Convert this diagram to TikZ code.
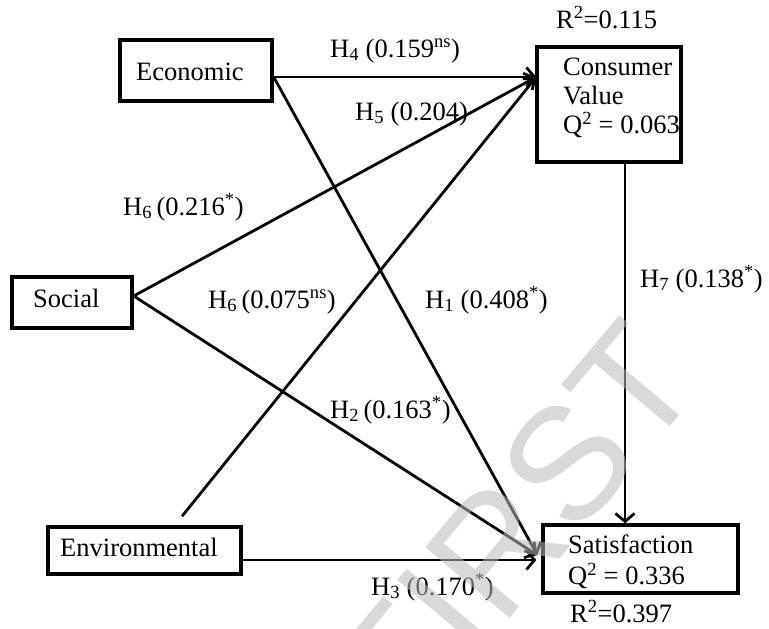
\documentclass[tikz,border=0pt]{standalone}
\usepackage{fontspec}
\setmainfont{Liberation Serif}
\newfontfamily\wmfont{Liberation Sans}
\usetikzlibrary{arrows.meta}
\begin{document}
\begin{tikzpicture}[x=1pt,y=-1pt,
  font=\fontsize{26.5}{29}\selectfont,
  box/.style={draw, line width=3.4pt, inner sep=0pt},
  lbl/.style={anchor=base west, inner sep=0pt},
  arr/.style={line width=2.8pt, -{Straight Barb[length=8pt,width=19pt]}}]
\useasboundingbox (0,0) rectangle (769,629);

% boxes
\node[box, minimum width=152pt, minimum height=61pt] (eco) at (196,70.5) {};
\node[box, minimum width=144pt, minimum height=115pt] (cv) at (609,104.5) {};
\node[box, minimum width=120pt, minimum height=51pt] (soc) at (72,302.5) {};
\node[box, minimum width=193pt, minimum height=47pt] (env) at (144.5,550.5) {};
\node[box, minimum width=195pt, minimum height=68pt] (sat) at (640.5,559) {};

% box texts
\node[lbl] (ecot) at (136,80) {Economic};
\node[lbl] (soct) at (33,307) {Social};
\node[lbl] (envt) at (60,556) {Environmental};
\node[anchor=north west, inner sep=0pt, align=left] (cvt) at (563,57.5)
  {Consumer\\Value\\Q\textsuperscript{2} = 0.063};
\node[anchor=north west, inner sep=0pt, align=left,
  font=\fontsize{26.5}{31}\selectfont] (satt) at (568,534.2)
  {Satisfaction\\Q\textsuperscript{2} = 0.336};

% ports
\coordinate (ecoout) at ([yshift=-6.5pt]eco.east);
\coordinate (socout) at ([yshift=6.5pt]soc.east);
\coordinate (envtop) at ([xshift=37.5pt,yshift=9pt]env.north);
\coordinate (envout) at ([yshift=-9.5pt]env.east);
\coordinate (cvin) at ([xshift=1pt,yshift=27.5pt]cv.west);
\coordinate (satin) at ([xshift=-4pt,yshift=4pt]sat.west);
\coordinate (satin2) at ([xshift=-5pt,yshift=-1pt]sat.west);
\coordinate (cvout) at ([xshift=16pt]cv.south);
\coordinate (sattop) at ([xshift=-15.5pt]sat.north);

% connectors
\draw[arr] (ecoout) -- (cvin);
\draw[arr] (ecoout) -- (satin);
\draw[arr] (socout) -- (cvin);
\draw[arr] (socout) -- (satin);
\draw[arr] (envtop) -- (cvin);
\draw[arr] (envout) -- (satin2);
\draw[arr] (cvout) -- (sattop);

% labels
\node[lbl] (r1) at (556,28) {R\textsuperscript{2}=0.115};
\node[lbl] (h4) at (330,57) {H\textsubscript{4} (0.159\textsuperscript{ns})};
\node[lbl] (h5) at (355,120) {H\textsubscript{5} (0.204)};
\node[lbl] (h6a) at (123,215) {H\textsubscript{6}\,(0.216\textsuperscript{*})};
\node[lbl] (h6b) at (208,308) {H\textsubscript{6}\,(0.075\textsuperscript{ns})};
\node[lbl] (h1) at (425,308) {H\textsubscript{1} (0.408\textsuperscript{*})};
\node[lbl] (h2) at (330,418) {H\textsubscript{2}\,(0.163\textsuperscript{*})};
\node[lbl] (h7) at (640,287) {H\textsubscript{7} (0.138\textsuperscript{*})};
\node[lbl] (h3) at (371,595) {H\textsubscript{3} (0.170\textsuperscript{*})};
\node[lbl] (r2) at (570,622) {R\textsuperscript{2}=0.397};

% watermark
\node[font=\wmfont\fontsize{160}{160}\selectfont, text=black!27, text opacity=0.55,
  rotate=50, inner sep=0pt] (wm) at (516,525) {FIRST};
\end{tikzpicture}
\end{document}
